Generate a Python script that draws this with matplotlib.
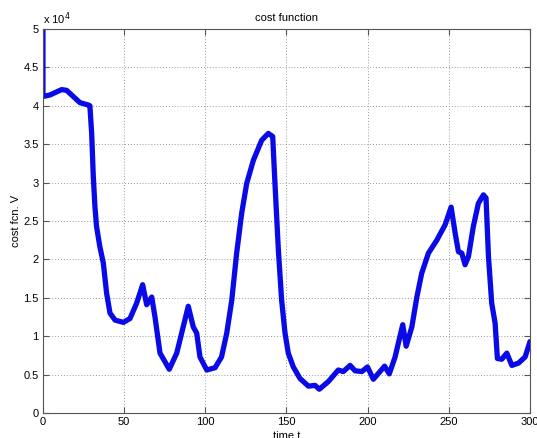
import matplotlib; matplotlib.use("Agg")
import matplotlib.pyplot as plt
from matplotlib.ticker import FuncFormatter
import numpy as np

# cost function trace (V in units of 1e4)
t = [0, 0, 4.3, 11.5, 14.6, 18.7, 22.8, 27.9, 28.9, 30, 31, 32, 33, 35, 37.2, 39.2, 41.3,
     44.4, 49.5, 53.6, 57.7, 61.4, 63.9, 67, 69, 72.1, 77.8, 82.4, 89.5, 92.6, 94.7, 96.7,
     100.9, 106, 110, 113.2, 116.3, 119.3, 122.4, 125.5, 129.6, 134.7, 138.8, 141.5,
     142.9, 145, 147, 149.1, 151.1, 154.2, 158.3, 163.5, 167.6, 170.2, 175.8, 181.9,
     185, 189.2, 192.2, 196.4, 199.9, 203.5, 207.6, 210.4, 213.3, 216.9, 221.6, 223.7,
     227.2, 230.3, 233.3, 237.4, 242.6, 247.7, 251.4, 253.9, 255.9, 258, 260, 262.1,
     265.1, 268.2, 271.3, 272.9, 274.4, 276.4, 278.5, 279.9, 282.6, 285.7, 288.8,
     292.9, 297, 300]
V = [5.0, 4.12, 4.14, 4.21, 4.20, 4.12, 4.04, 4.01, 4.0, 3.64, 3.08, 2.69, 2.43, 2.17,
     1.95, 1.56, 1.30, 1.21, 1.18, 1.23, 1.43, 1.67, 1.41, 1.51, 1.25, 0.78, 0.57, 0.78,
     1.39, 1.12, 1.04, 0.73, 0.56, 0.59, 0.73, 1.04, 1.47, 2.08, 2.60, 2.99, 3.29, 3.55,
     3.64, 3.60, 2.99, 2.12, 1.47, 1.04, 0.78, 0.60, 0.45, 0.35, 0.36, 0.31, 0.41, 0.56,
     0.54, 0.62, 0.55, 0.54, 0.60, 0.44, 0.54, 0.61, 0.51, 0.73, 1.15, 0.87, 1.12, 1.51,
     1.82, 2.08, 2.25, 2.45, 2.68, 2.34, 2.10, 2.08, 1.93, 2.04, 2.43, 2.73, 2.84, 2.80,
     2.04, 1.43, 1.17, 0.71, 0.70, 0.78, 0.62, 0.65, 0.73, 0.93]
V = np.array(V) * 1e4

plt.rcParams.update({"font.family": ["Liberation Sans", "DejaVu Sans"], "font.size": 8})
fig = plt.figure(figsize=(5.37, 4.38), dpi=100)
ax = fig.add_axes([0.080, 0.057, 0.907, 0.877])
ax.plot(t, V, color="#0a0ae6", lw=3.8, solid_joinstyle="round", solid_capstyle="round")
ax.set_xlim(0, 300); ax.set_ylim(0, 5e4)
ax.set_xticks(range(0, 301, 50)); ax.set_yticks(np.arange(0, 5.01e4, 0.5e4))
ax.yaxis.set_major_formatter(FuncFormatter(lambda v, p: f"{v/1e4:g}"))
ax.grid(True, ls=(0, (1, 2)), color="#9a9a9a", lw=0.7)
ax.tick_params(direction="in", top=True, right=True, length=4, color="#555555", pad=3)
for s in ax.spines.values(): s.set_color("#555555")
ax.set_title("cost function", fontsize=8, pad=6)
ax.set_ylabel("cost fcn. V", fontsize=8, labelpad=2)
ax.set_xlabel("time t", fontsize=8, labelpad=3)
ax.text(0.0, 1.005, "x 10$^4$", transform=ax.transAxes, fontsize=8, va="bottom", ha="left")
fig.savefig("out.png", dpi=100)
